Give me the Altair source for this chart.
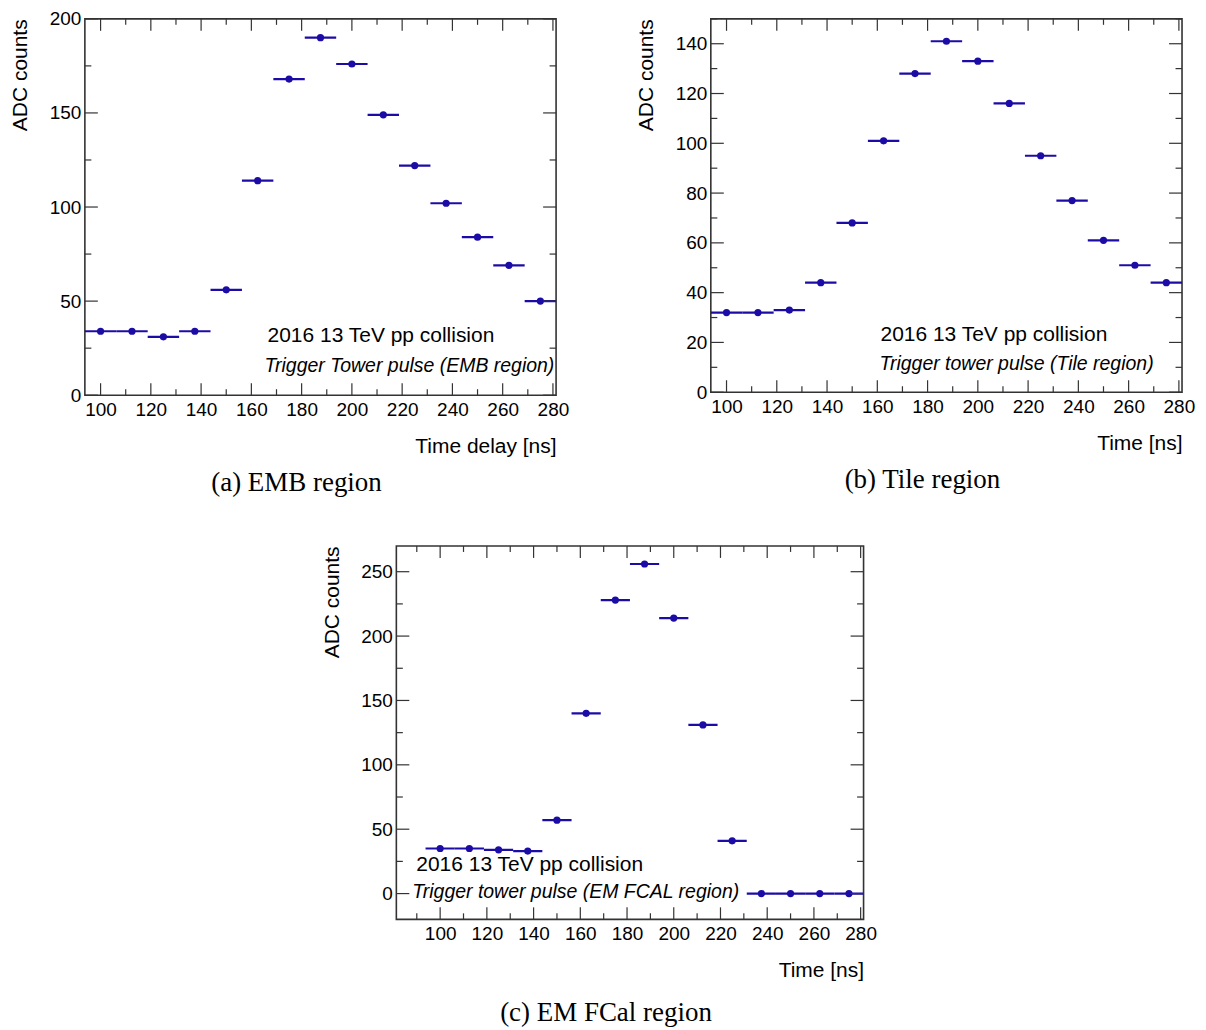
import altair as alt
import pandas as pd

# ---------------- data ----------------
x_centers = [100, 112.5, 125, 137.5, 150, 162.5, 175, 187.5, 200, 212.5, 225, 237.5, 250, 262.5, 275]
half_width = 6.25
emb_adc = [34, 34, 31, 34, 56, 114, 168, 190, 176, 149, 122, 102, 84, 69, 50]
tile_adc = [32, 32, 33, 44, 68, 101, 128, 141, 133, 116, 95, 77, 61, 51, 44]
fcal_adc = [35, 35, 34, 33, 57, 140, 228, 256, 214, 131, 41, 0, 0, 0, 0]

x_major = [100, 120, 140, 160, 180, 200, 220, 240, 260, 280]
x_minor_ab = [110, 130, 150, 170, 190, 210, 230, 250, 270]
x_minor_c = [90, 110, 130, 150, 170, 190, 210, 230, 250, 270]

emb_y_major = [0, 50, 100, 150, 200]
emb_y_minor = [25, 75, 125, 175]
tile_y_major = [0, 20, 40, 60, 80, 100, 120, 140]
tile_y_minor = [10, 30, 50, 70, 90, 110, 130, 150]
fcal_y_major = [0, 50, 100, 150, 200, 250]
fcal_y_minor = [25, 75, 125, 175, 225]

MARK = "#1c0ca6"
TICK = "#333333"
SANS = "Liberation Sans"
SERIF = "Liberation Serif"


def panel(values, xdom, ydom, y_major, y_minor, x_minor, xtitle, note1, note2,
          caption, W, H, n1, n2, cap_offset):
    xs = alt.Scale(domain=xdom, nice=False, zero=False)
    ys = alt.Scale(domain=ydom, nice=False, zero=False)
    xaxis = alt.Axis(values=x_major, title=xtitle, titleX=W, titleY=51,
                     titleAlign="right", titleBaseline="middle", labelPadding=5)
    yaxis = alt.Axis(values=y_major, title="ADC counts", titleX=-64, titleY=0,
                     titleAngle=270, titleAlign="right", titleBaseline="middle",
                     labelPadding=4)
    df = pd.DataFrame({
        "x": x_centers,
        "lo": [v - half_width for v in x_centers],
        "hi": [v + half_width for v in x_centers],
        "adc": values,
    })
    bars = alt.Chart(df).mark_rule(color=MARK, strokeWidth=2.2, clip=True).encode(
        x=alt.X("lo:Q", scale=xs, axis=xaxis),
        x2="hi:Q",
        y=alt.Y("adc:Q", scale=ys, axis=yaxis),
    )
    pts = alt.Chart(df).mark_circle(color=MARK, size=52, opacity=1).encode(
        x=alt.X("x:Q", scale=xs, axis=xaxis),
        y=alt.Y("adc:Q", scale=ys, axis=yaxis),
    )
    layers = [bars, pts]

    def xticks(vals, length):
        d = pd.DataFrame({"v": vals})
        base = alt.Chart(d).mark_rule(color=TICK, strokeWidth=1.2)
        b = base.encode(x=alt.X("v:Q", scale=xs, axis=xaxis),
                        y=alt.value(H), y2=alt.value(H - length))
        t = base.encode(x=alt.X("v:Q", scale=xs, axis=xaxis),
                        y=alt.value(0), y2=alt.value(length))
        return [b, t]

    def yticks(vals, length):
        d = pd.DataFrame({"v": vals})
        base = alt.Chart(d).mark_rule(color=TICK, strokeWidth=1.2)
        l = base.encode(y=alt.Y("v:Q", scale=ys, axis=yaxis),
                        x=alt.value(0), x2=alt.value(length))
        r = base.encode(y=alt.Y("v:Q", scale=ys, axis=yaxis),
                        x=alt.value(W), x2=alt.value(W - length))
        return [l, r]

    layers += xticks(x_major, 12) + xticks(x_minor, 6)
    layers += yticks(y_major, 13) + yticks(y_minor, 6.5)

    t1 = alt.Chart(pd.DataFrame({"t": [note1]})).mark_text(
        align="left", baseline="middle", font=SANS, fontSize=21, color="black"
    ).encode(text="t:N", x=alt.value(n1[0]), y=alt.value(n1[1]))
    t2 = alt.Chart(pd.DataFrame({"t": [note2]})).mark_text(
        align="left", baseline="middle", font=SANS, fontSize=19.5,
        fontStyle="italic", color="black"
    ).encode(text="t:N", x=alt.value(n2[0]), y=alt.value(n2[1]))
    layers += [t1, t2]

    return alt.layer(*layers).properties(
        width=W, height=H,
        title=alt.TitleParams(caption, orient="bottom", anchor="middle",
                              frame="group", font=SERIF, fontSize=27,
                              fontWeight="normal", color="black", dx=-24,
                              offset=cap_offset),
    )


pa = panel(emb_adc, [93.75, 281.25], [0, 200], emb_y_major, emb_y_minor,
           x_minor_ab, "Time delay [ns]", "2016 13 TeV pp collision",
           "Trigger Tower pulse (EMB region)", "(a) EMB region", 472, 377,
           (183, 318), (180, 348), 14)
pb = panel(tile_adc, [93.75, 281.25], [0, 150], tile_y_major, tile_y_minor,
           x_minor_ab, "Time [ns]", "2016 13 TeV pp collision",
           "Trigger tower pulse (Tile region)", "(b) Tile region", 472, 374,
           (170, 317), (169, 346), 14)
pc = panel(fcal_adc, [81.25, 281.25], [-20, 270], fcal_y_major, fcal_y_minor,
           x_minor_c, "Time [ns]", "2016 13 TeV pp collision",
           "Trigger tower pulse (EM FCAL region)", "(c) EM FCal region", 468, 374,
           (20, 320), (16, 347), 20)

spacer = alt.Chart(pd.DataFrame({"a": [0]})).mark_point(opacity=0).encode(
    x=alt.value(0), y=alt.value(0)
).properties(width=235, height=10, view=alt.ViewBackground(stroke="transparent"))

top = alt.hconcat(pa, pb, spacing=155, bounds="flush")
bottom = alt.hconcat(spacer, pc, spacing=0)
chart = alt.vconcat(top, bottom, spacing=45).properties(
    padding={"left": 1, "top": 0, "right": 2, "bottom": 2}
).configure_view(
    stroke=TICK, strokeWidth=1.6
).configure_axis(
    domain=False, ticks=False, grid=False,
    labelFont=SANS, labelFontSize=19, labelColor="black",
    titleFont=SANS, titleFontSize=21, titleFontWeight="normal", titleColor="black",
)

chart.save("out.html", embed_options={"renderer": "svg", "actions": False})
